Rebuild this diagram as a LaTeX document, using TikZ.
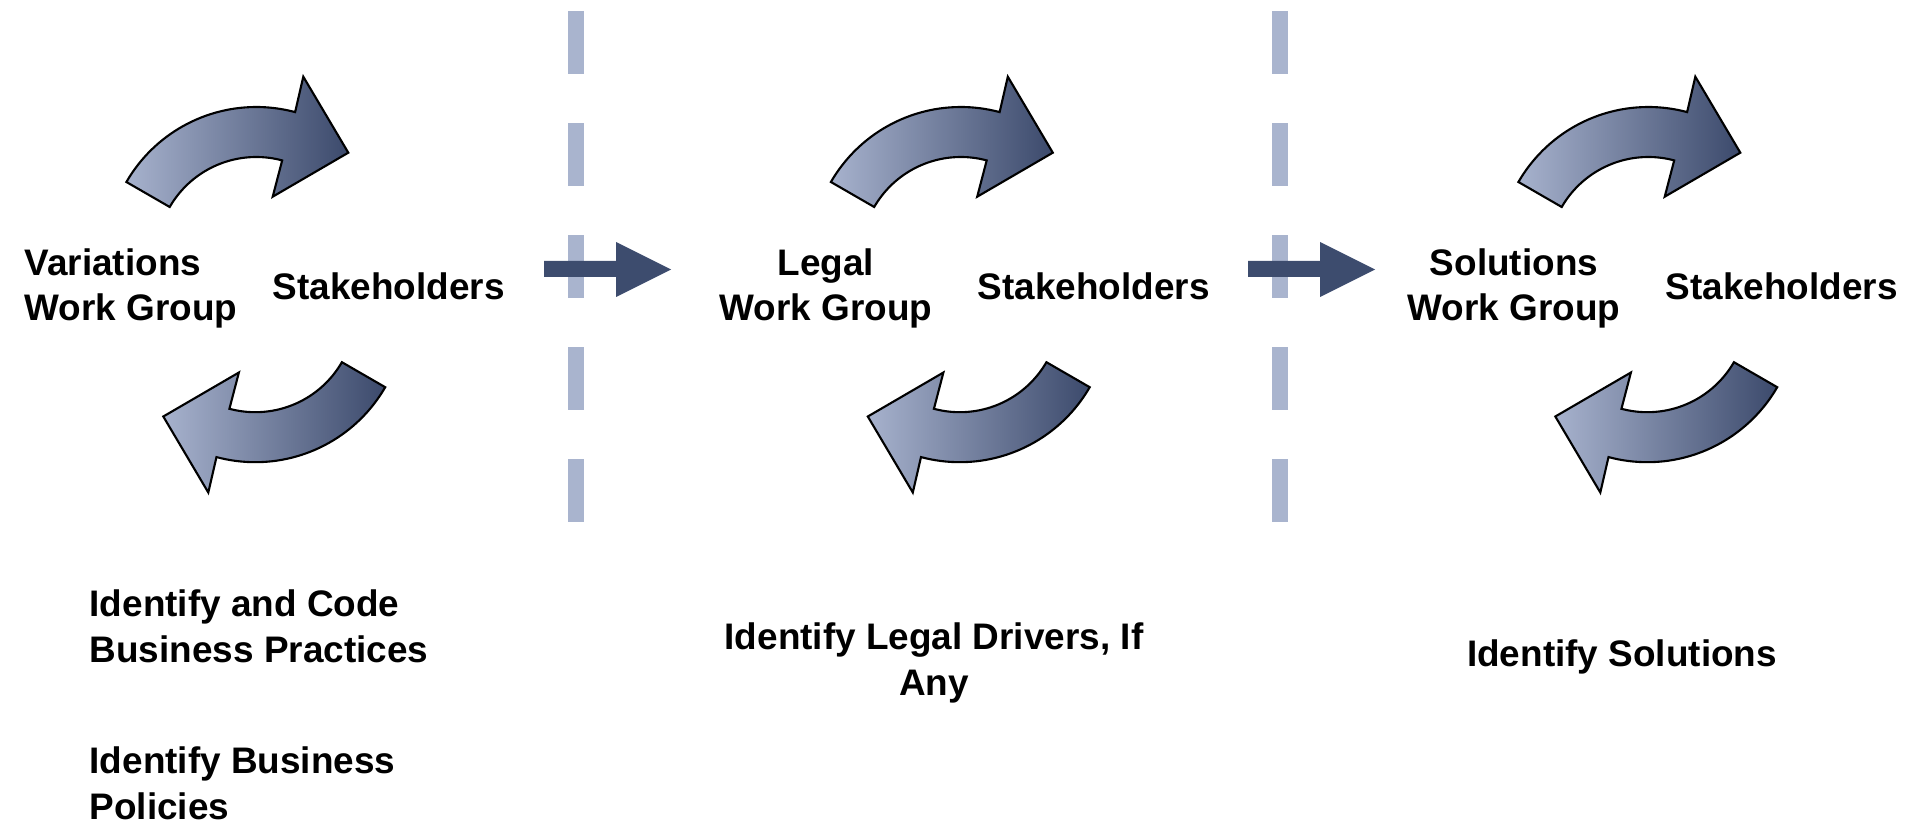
\documentclass[tikz,border=0pt]{standalone}
\usepackage{fontspec}
\setmainfont{Liberation Sans}
\definecolor{dashcol}{RGB}{169,180,206}
\definecolor{darkcol}{RGB}{61,76,110}
\definecolor{arlight}{RGB}{167,178,205}
\definecolor{ardark}{RGB}{60,74,108}
% curved arrow: #1,#2 = centre of the arc, #3 = 1 (upper) or -1 (lower, turned by 180 degrees)
\newcommand\cycarrow[3]{%
  \path[arrowshape, shift={(#1,#2)}]
    plot[domain=210:285, samples=40, variable=\t] ({#3*150*cos(\t)},{#3*150*sin(\t)})
    -- ({#3*47},{#3*(-180.3)}) -- ({#3*92},{#3*(-104.3)}) -- ({#3*16.4},{#3*(-60.3)})
    -- plot[domain=285:210, samples=40, variable=\t] ({#3*100*cos(\t)},{#3*100*sin(\t)})
    -- cycle;}
\newcommand\fwdarrow[1]{%
  \path[fwd, shift={(#1,0)}] (544,261) -- (616,261) -- (616,242) -- (671,269.5)
    -- (616,297) -- (616,277) -- (544,277) -- cycle;}
\begin{document}
\begin{tikzpicture}[x=0.01cm, y=-0.01cm,
  lbl/.style={font=\fontsize{10.5}{12.8}\selectfont\bfseries, inner sep=0pt},
  arrowshape/.style={draw=black, line width=0.6pt, line join=miter, left color=arlight, right color=ardark},
  sep/.style={draw=dashcol, line width=0.16cm, dash pattern=on 0.63cm off 0.49cm},
  fwd/.style={fill=darkcol, draw=none}]
\useasboundingbox (0,0) rectangle (1907,825);
% separators
\coordinate (s1t) at (576,11);  \coordinate (s1b) at (576,523);
\coordinate (s2t) at (1280,11); \coordinate (s2b) at (1280,523);
\draw[sep] (s1t) -- (s1b);
\draw[sep] (s2t) -- (s2b);
% forward arrows
\fwdarrow{0}
\fwdarrow{704}
% cycle arrows
\cycarrow{256.3}{257}{1}
\cycarrow{255.3}{312.2}{-1}
\cycarrow{960.8}{257}{1}
\cycarrow{959.8}{312.2}{-1}
\cycarrow{1648.3}{257}{1}
\cycarrow{1647.3}{312.2}{-1}
% labels (base anchor = baseline of the last line)
\node[lbl, anchor=base west, align=left] (wg1) at (24,321) {Variations\\Work Group};
\node[lbl, anchor=base west] (st1) at (272,300) {Stakeholders};
\node[lbl, anchor=base, align=center] (wg2) at (826,321) {Legal\\Work Group};
\node[lbl, anchor=base west] (st2) at (977,300) {Stakeholders};
\node[lbl, anchor=base, align=center] (wg3) at (1514,321) {Solutions\\Work Group};
\node[lbl, anchor=base west] (st3) at (1665,300) {Stakeholders};
% tasks
\node[lbl, anchor=base west, align=left] (t1a) at (89,662) {Identify and Code\\Business Practices};
\node[lbl, anchor=base west, align=left] (t1b) at (89,819) {Identify Business\\Policies};
\node[lbl, anchor=base, align=center] (t2) at (934,695) {Identify Legal Drivers, If\\Any};
\node[lbl, anchor=base] (t3) at (1622,666) {Identify Solutions};
\end{tikzpicture}
\end{document}
